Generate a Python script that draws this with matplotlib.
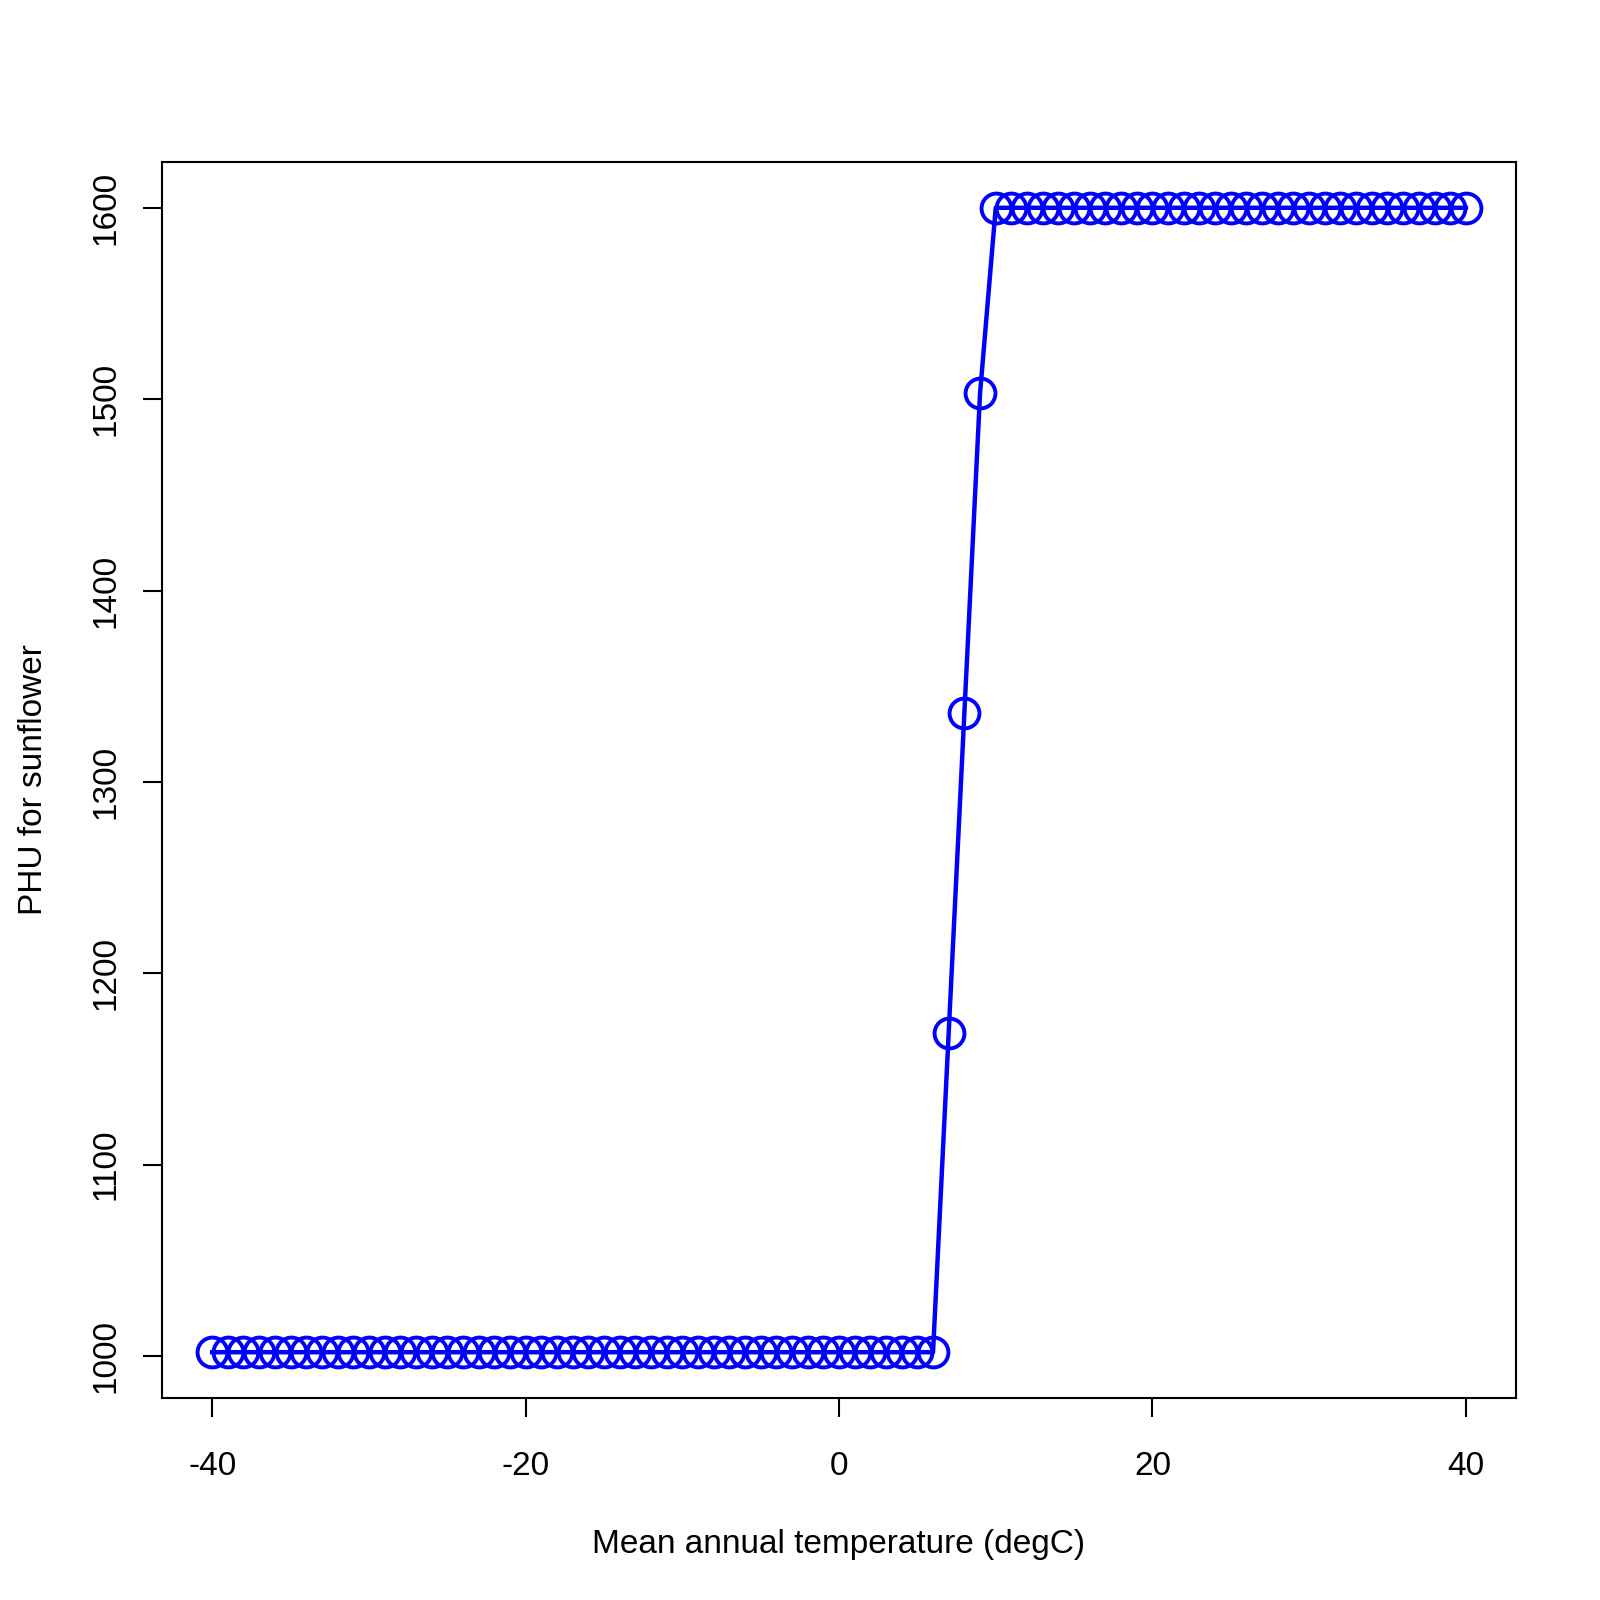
import matplotlib
matplotlib.use('Agg')
import matplotlib.pyplot as plt

# mean annual temperature (degC) and PHU for sunflower
temp = [-40, -39, -38, -37, -36, -35, -34, -33, -32, -31,
        -30, -29, -28, -27, -26, -25, -24, -23, -22, -21,
        -20, -19, -18, -17, -16, -15, -14, -13, -12, -11,
        -10, -9, -8, -7, -6, -5, -4, -3, -2, -1,
        0, 1, 2, 3, 4, 5, 6, 7, 8, 9,
        10, 11, 12, 13, 14, 15, 16, 17, 18, 19,
        20, 21, 22, 23, 24, 25, 26, 27, 28, 29,
        30, 31, 32, 33, 34, 35, 36, 37, 38, 39, 40]
phu = [1002, 1002, 1002, 1002, 1002, 1002, 1002, 1002, 1002, 1002,
       1002, 1002, 1002, 1002, 1002, 1002, 1002, 1002, 1002, 1002,
       1002, 1002, 1002, 1002, 1002, 1002, 1002, 1002, 1002, 1002,
       1002, 1002, 1002, 1002, 1002, 1002, 1002, 1002, 1002, 1002,
       1002, 1002, 1002, 1002, 1002, 1002, 1002, 1169, 1336, 1503,
       1600, 1600, 1600, 1600, 1600, 1600, 1600, 1600, 1600, 1600,
       1600, 1600, 1600, 1600, 1600, 1600, 1600, 1600, 1600, 1600,
       1600, 1600, 1600, 1600, 1600, 1600, 1600, 1600, 1600, 1600, 1600]
x_ticks = [-40, -20, 0, 20, 40]
y_ticks = [1000, 1100, 1200, 1300, 1400, 1500, 1600]

plt.rcParams['font.family'] = ['Liberation Sans', 'DejaVu Sans']

fig = plt.figure(figsize=(16, 16), dpi=100)
ax = fig.add_axes([0.10125, 0.12625, 0.84625, 0.7725])

# R-style type="o": line through open circles
ax.plot(temp, phu, color='blue', linewidth=3.2, zorder=2)
ax.plot(temp, phu, linestyle='none', marker='o', markersize=21.5,
        markerfacecolor='none', markeredgecolor='blue', markeredgewidth=2.8, zorder=3)

# R default 4% padding on both axes
xr = max(temp) - min(temp)
yr = max(phu) - min(phu)
ax.set_xlim(min(temp) - 0.04 * xr, max(temp) + 0.04 * xr)
ax.set_ylim(min(phu) - 0.04 * yr, max(phu) + 0.04 * yr)

ax.set_xticks(x_ticks)
ax.set_xticklabels([str(t) for t in x_ticks])
ax.set_yticks(y_ticks)
ax.set_yticklabels([str(t) for t in y_ticks], rotation=90, va='center')

ax.tick_params(axis='both', direction='out', length=14, width=1.5,
               labelsize=24, color='black')
ax.tick_params(axis='x', pad=24)
ax.tick_params(axis='y', pad=15)
for s in ax.spines.values():
    s.set_linewidth(1.5)

ax.set_xlabel('Mean annual temperature (degC)', fontsize=24, labelpad=34)
ax.set_ylabel('PHU for sunflower', fontsize=24, labelpad=30)

fig.savefig('out.png', dpi=100, facecolor='white')
